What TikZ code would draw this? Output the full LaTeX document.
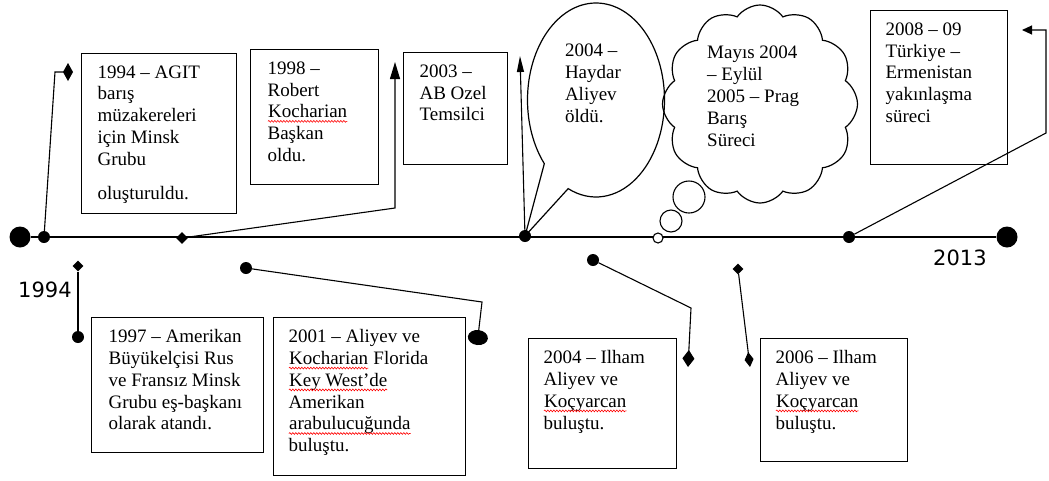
\documentclass[tikz,border=0pt]{standalone}
\usepackage{fontspec}
\setmainfont{Liberation Serif}
\newfontfamily\yearfont{DejaVu Sans}
\usetikzlibrary{arrows.meta}
\usetikzlibrary{shapes.geometric}
\usetikzlibrary{shapes.symbols}
\usetikzlibrary{shapes.callouts}
\usetikzlibrary{decorations.pathmorphing}
\newcommand{\redwave}[1]{\tikz[baseline=(w.base)]{\node[draw=none, fill=none, shape=rectangle, inner sep=0pt,
    anchor=base] (w) {#1};
    \draw[red, line width=0.6pt, decorate, decoration={snake, amplitude=0.9pt, segment length=3pt}]
    ([yshift=-3.5pt]w.base west) -- ([yshift=-3.5pt]w.base east);}}
\tikzset{evbox/.style={draw, line width=1.2pt, anchor=north west, inner xsep=#1, inner ysep=12pt,
    font=\fontsize{19}{21.8}\selectfont},
  dotm/.style={circle, fill, inner sep=0pt, minimum size=12pt},
  bigdotm/.style={circle, fill, inner sep=0pt, minimum size=21pt},
  diam/.style={diamond, fill, inner sep=0pt, minimum size=#1},
  conn/.style={line width=1.1pt},
  bubble/.style={circle, draw, fill=white, line width=1.1pt, inner sep=0pt, minimum size=#1}
}

\begin{document}
\begin{tikzpicture}[x=1pt,y=-1pt]
                \useasboundingbox (0,0) rectangle (1049,480);

                % Time line
                \node[bigdotm] (t0) at (20,237) {};
                \node[bigdotm] (tE) at (1007,237) {};
                \draw[line width=1.2pt] (t0) -- (tE);
                
                \node[dotm] (d1994) at (44,237) {};
                \node[diam=12pt] (k1998) at (182,238) {};
                \node[dotm] (d2004) at (525,236) {};
                \node[dotm] (d2008) at (849,237) {};
                
                \node[diam=11pt] (k1997) at (78,266) {};
                \node[dotm] (d1997) at (78,337) {};
                \node[dotm] (d2001) at (246,268) {};
                \node[dotm] (d2004b) at (593,260) {};
                \node[diam=11pt] (k2006) at (738,269) {};
                
                % Boxes above
                \node[evbox=16pt] (b1994) at (81,53) {\parbox[c][136pt][t]{123pt}{\raggedright
                    1994 – AGIT\\ barış\\ müzakereleri\\ için Minsk\\ Grubu\\[12pt] oluşturuldu.}};
                \node[evbox=17pt] (b1998) at (250,49) {\parbox[c][111pt][t]{94pt}{\raggedright
                    1998 –\\ Robert\\ \redwave{Kocharian}\\ Başkan\\ oldu.}};
                \node[evbox=16pt] (b2003) at (403,52) {\parbox[c][88pt][t]{72pt}{\raggedright
                    2003 –\\ AB Ozel\\ Temsilci}};
                \node[evbox=15pt] (b2008) at (870,10) {\parbox[c][130pt][t]{107pt}{\raggedright
                    2008 – 09\\ Türkiye –\\ Ermenistan\\ yakınlaşma\\ süreci}};
                
                \node[ellipse callout, draw, line width=1.2pt, minimum width=137pt, minimum height=194pt,
                    inner sep=0pt, callout absolute pointer={(d2004.center)}, callout pointer arc=25,
                    font=\fontsize{19}{21.8}\selectfont] (haydar) at (596,100)
                    {\parbox[c][112pt][t]{62pt}{\raggedright 2004 –\\ Haydar\\ Aliyev\\ öldü.}};
                
                \node[cloud, draw, line width=1.2pt, cloud puffs=12, cloud puff arc=110,
                    minimum width=195pt, minimum height=198pt, inner sep=0pt] (prag) at (760,104) {};
                \node[anchor=north west, inner sep=0pt, align=left, font=\fontsize{19}{21.8}\selectfont]
                    (pragtxt) at (707,46) {Mayıs 2004\\ – Eylül\\ 2005 – Prag\\ Barış\\ Süreci};
                \node[bubble=32pt] (bub1) at (689,197) {};
                \node[bubble=22pt] (bub2) at (671,221) {};
                \node[bubble=10pt] (bub3) at (658,238) {};
                
                % Boxes below
                \node[evbox=17pt] (b1997) at (91,317) {\parbox[c][111pt][t]{138pt}{\raggedright
                    1997 – Amerikan\\ Büyükelçisi Rus\\ ve Fransız Minsk\\ Grubu eş-başkanı\\ olarak atandı.}};
                \node[evbox=15pt] (b2001) at (273,317) {\parbox[c][134pt][t]{162pt}{\raggedright
                    2001 – Aliyev ve\\ \redwave{Kocharian} Florida\\ \redwave{Key West’de}\\ Amerikan\\
                    \redwave{arabulucuğunda}\\ buluştu.}};
                \node[evbox=15pt] (b2004) at (528,338) {\parbox[c][106pt][t]{118pt}{\raggedright
                    2004 – Ilham\\ Aliyev ve\\ \redwave{Koçyarcan}\\ buluştu.}};
                \node[evbox=15pt] (b2006) at (760,338) {\parbox[c][99pt][t]{117pt}{\raggedright
                    2006 – Ilham\\ Aliyev ve\\ \redwave{Koçyarcan}\\ buluştu.}};
                
                % Connectors
                \coordinate (e1994) at (73,72);
                \coordinate (e1998) at (395,62);
                \coordinate (e2003) at (520,56);
                \coordinate (e2008) at (1022,30);
                \coordinate (e2001) at (477,345);
                \coordinate (e2004b) at (688,367);
                \coordinate (e2006) at (750,367);
                
                \draw[conn,-{Diamond[length=10pt,width=18pt]}] (d1994) -- (55,72) -- (e1994);
                \draw[conn,-{Triangle[length=17pt,width=10pt]}] (k1998) -- (395,208) -- (e1998);
                \draw[conn,-{Triangle[length=16pt,width=7pt]}] (d2004) -- (e2003);
                \draw[conn,-{Triangle[length=10pt,width=9pt]}] (d2008) -- (1046,133) -- (1046,30) -- (e2008);
                
                \draw[conn] (k1997) -- (d1997);
                \draw[conn,-{Ellipse[length=15pt,width=20pt]}] (d2001) -- (482,302) -- (e2001);
                \draw[conn,-{Diamond[length=17pt,width=12pt]}] (d2004b) -- (691,308) -- (e2004b);
                \draw[conn,-{Diamond[length=15pt,width=9pt]}] (k2006) -- (e2006);
                
                % Labels
                \node[anchor=base west, inner sep=0pt, font=\yearfont\fontsize{21}{25}\selectfont] (y1994) at (18,297) {1994};
                \node[anchor=base west, inner sep=0pt, font=\yearfont\fontsize{21}{25}\selectfont] (y2013) at (933,265) {2013};
\end{tikzpicture}
\end{document}
